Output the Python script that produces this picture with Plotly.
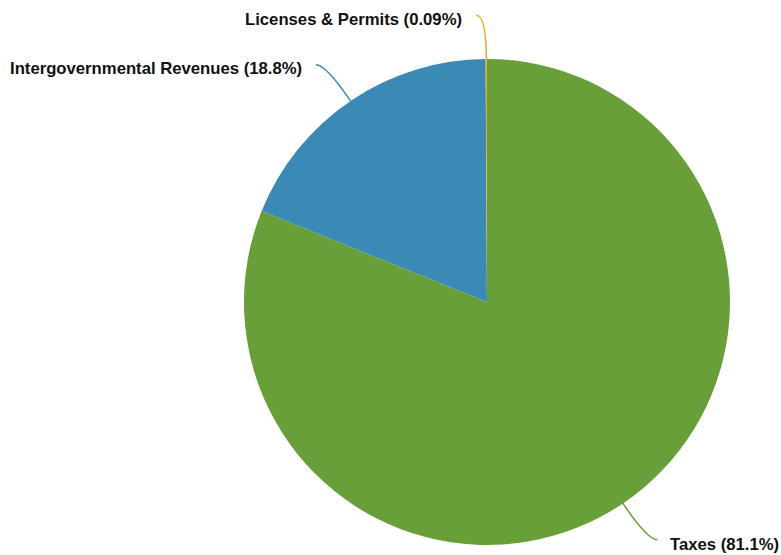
import math
import plotly.graph_objects as go

labels = ["Taxes", "Intergovernmental Revenues", "Licenses & Permits"]
values = [81.1, 18.8, 0.09]
pct_text = ["81.1%", "18.8%", "0.09%"]
colors = ["#699F38", "#3B8AB5", "#F5A623"]

W, H = 781, 555
cx, cy, r = 487, 302, 243

fig = go.Figure(go.Pie(
    labels=labels, values=values, sort=False, direction="clockwise", rotation=0,
    marker=dict(colors=colors, line=dict(width=0)),
    textinfo="none", hoverinfo="label+percent", showlegend=False,
    domain=dict(x=[(cx - r) / W, (cx + r) / W], y=[(H - cy - r) / H, (H - cy + r) / H]),
))

def px(x):
    return x / W

def py(y):
    return 1 - y / H

total = sum(values)
cum = 0
shapes = []
annotations = []
for lab, v, t, col in zip(labels, values, pct_text, colors):
    mid = (cum + v / 2) / total * 2 * math.pi
    cum += v
    s, c = math.sin(mid), -math.cos(mid)
    x0, y0 = cx + r * s, cy + r * c
    x1, y1 = cx + 1.18 * r * s, cy + 1.18 * r * c
    side = 1 if s > 0.0005 else -1
    x2, y2 = x1 + side * 10, y1
    shapes.append(dict(
        type="path", xref="paper", yref="paper",
        path=f"M {px(x0)} {py(y0)} Q {px(x1)} {py(y1)} {px(x2)} {py(y2)}",
        line=dict(color=col, width=1.5),
    ))
    gap = 11 if side > 0 else 12
    annotations.append(dict(
        x=px(x2 + side * gap), y=py(y2 + (5 if side > 0 else 4)), xref="paper", yref="paper",
        text=f"<b>{lab} ({t})</b>", showarrow=False,
        xanchor="left" if side > 0 else "right", yanchor="middle",
        font=dict(family="Liberation Sans, Arial, sans-serif", size=16.7, color="#111111"),
    ))

fig.update_layout(
    width=W, height=H, margin=dict(l=0, r=0, t=0, b=0),
    paper_bgcolor="white", plot_bgcolor="white",
    shapes=shapes, annotations=annotations,
)
fig.write_html("out.html", config={"displayModeBar": False},
               post_script="document.body.style.margin='0';")
